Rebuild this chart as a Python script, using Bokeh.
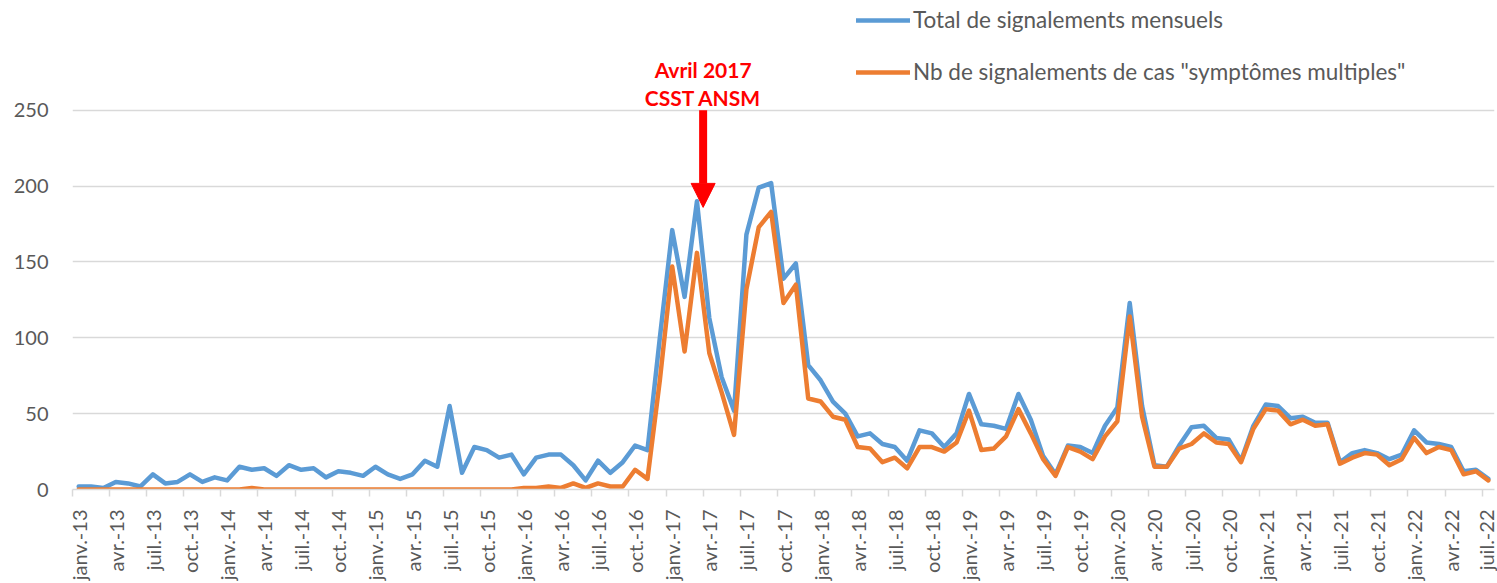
import math
from bokeh.plotting import figure
from bokeh.models import (LinearAxis, FixedTicker, Range1d, Legend, LegendItem,
                          Label, Arrow, NormalHead, ColumnDataSource)
from bokeh.embed import file_html
from bokeh.resources import INLINE

# ---- data -------------------------------------------------------------
month_abbr = ["janv.", "févr.", "mars", "avr.", "mai", "juin",
              "juil.", "août", "sept.", "oct.", "nov.", "déc."]
years = ["13", "14", "15", "16", "17", "18", "19", "20", "21", "22"]
n_months = 115  # janv.-13 .. juil.-22

total = [2, 2, 1, 5, 4, 2, 10, 4, 5, 10, 5, 8, 6, 15, 13, 14, 9, 16, 13, 14,
         8, 12, 11, 9, 15, 10, 7, 10, 19, 15, 55, 11, 28, 26, 21, 23, 10, 21, 23, 23,
         16, 6, 19, 11, 18, 29, 26, 100, 171, 127, 190, 113, 74, 52, 168, 199, 202, 139, 149, 82,
         72, 58, 50, 35, 37, 30, 28, 19, 39, 37, 28, 37, 63, 43, 42, 40, 63, 46, 22, 10,
         29, 28, 24, 42, 54, 123, 55, 16, 15, 29, 41, 42, 34, 33, 19, 42, 56, 55, 47, 48,
         44, 44, 18, 24, 26, 24, 20, 23, 39, 31, 30, 28, 12, 13, 7]

multiples = [0, 0, 0, 0, 0, 0, 0, 0, 0, 0, 0, 0, 0, 0, 1, 0, 0, 0, 0, 0,
             0, 0, 0, 0, 0, 0, 0, 0, 0, 0, 0, 0, 0, 0, 0, 0, 1, 1, 2, 1,
             4, 1, 4, 2, 2, 13, 7, 72, 147, 91, 156, 90, 64, 36, 132, 173, 183, 123, 135, 60,
             58, 48, 46, 28, 27, 18, 21, 14, 28, 28, 25, 31, 52, 26, 27, 35, 53, 37, 20, 9,
             28, 25, 20, 35, 45, 114, 48, 15, 15, 27, 30, 37, 31, 30, 18, 40, 53, 52, 43, 46,
             42, 43, 17, 21, 24, 23, 16, 20, 34, 24, 28, 26, 10, 12, 6]

y_ticks = [0, 50, 100, 150, 200, 250]
series_names = ["Total de signalements mensuels",
                "Nb de signalements de cas \"symptômes multiples\""]
annotation_lines = ["Avril 2017", "CSST ANSM"]

month_labels = [f"{month_abbr[i % 12]}-{years[i // 12]}" for i in range(n_months)]
x = list(range(n_months))
label_ticks = list(range(0, n_months, 3))
boundary_ticks = [t - 0.5 for t in label_ticks]

source = ColumnDataSource(dict(x=x, total=total, multiples=multiples, label=month_labels))

# ---- figure -----------------------------------------------------------
FONT = "Lato"
GREY = "#595959"
GRID = "#d9d9d9"

p = figure(width=1497, height=583,
           x_range=Range1d(-0.5, n_months - 0.5), y_range=Range1d(0, 322.4),
           output_backend="svg", toolbar_location=None,
           min_border_left=72, min_border_right=3, min_border_top=0, min_border_bottom=93)
p.outline_line_color = None
p.background_fill_color = "white"
p.border_fill_color = "white"

# y axis
ya = p.yaxis[0]
ya.ticker = FixedTicker(ticks=y_ticks)
ya.axis_line_color = None
ya.major_tick_line_color = None
ya.minor_tick_line_color = None
ya.major_tick_out = 0
ya.major_tick_in = 0
ya.major_label_standoff = 24
ya.major_label_text_font = FONT
ya.major_label_text_font_size = "20px"
ya.major_label_text_color = GREY

p.ygrid.grid_line_color = GRID
p.ygrid.grid_line_width = 1.5
p.xgrid.grid_line_color = None

# x axis: line + tick marks at category boundaries
xa = p.xaxis[0]
xa.ticker = FixedTicker(ticks=boundary_ticks)
xa.major_label_overrides = {t: "" for t in boundary_ticks}
xa.major_label_text_font_size = "1px"
xa.major_label_standoff = 0
xa.axis_line_color = GRID
xa.axis_line_width = 1.5
xa.major_tick_line_color = GRID
xa.major_tick_line_width = 1.5
xa.major_tick_out = 7
xa.major_tick_in = 0
xa.minor_tick_line_color = None

# x axis labels centred on the months
xl = LinearAxis(ticker=FixedTicker(ticks=label_ticks),
                major_label_overrides={t: month_labels[t] for t in label_ticks},
                axis_line_color=None, major_tick_line_color=None,
                minor_tick_line_color=None, major_tick_out=0, major_tick_in=0,
                major_label_orientation=math.pi / 2, major_label_standoff=13,
                major_label_text_font=FONT, major_label_text_font_size="20px",
                major_label_text_color=GREY)
p.add_layout(xl, "below")

# lines
r_total = p.line("x", "total", source=source, line_color="#5B9BD5", line_width=4.5,
                 line_join="round", line_cap="round")
r_mult = p.line("x", "multiples", source=source, line_color="#ED7D31", line_width=4.5,
                line_join="round", line_cap="round")

# legend
legend = Legend(items=[LegendItem(label=series_names[0], renderers=[r_total]),
                       LegendItem(label=series_names[1], renderers=[r_mult])],
                location=(784, 404), orientation="vertical",
                padding=0, margin=0, spacing=25,
                glyph_width=54, glyph_height=26, label_height=26,
                label_standoff=3,
                label_text_font=FONT, label_text_font_size="22.5px",
                label_text_color=GREY,
                border_line_color=None, background_fill_alpha=0)
p.add_layout(legend)

# annotation
p.add_layout(Label(x=50.5, y=276.8, text=annotation_lines[0], text_align="center",
                   text_baseline="middle", text_color="#FF0000", text_font=FONT,
                   text_font_style="bold", text_font_size="21px"))
p.add_layout(Label(x=50.5, y=258.6, text=annotation_lines[1], text_align="center",
                   text_baseline="middle", text_color="#FF0000", text_font=FONT,
                   text_font_style="bold", text_font_size="21px"))
p.add_layout(Arrow(x_start=50.5, y_start=250, x_end=50.5, y_end=186,
                   line_color="#FF0000", line_width=8,
                   end=NormalHead(size=24, fill_color="#FF0000", line_color="#FF0000",
                                  line_width=1)))

open("out.html", "w").write(file_html(p, INLINE))
